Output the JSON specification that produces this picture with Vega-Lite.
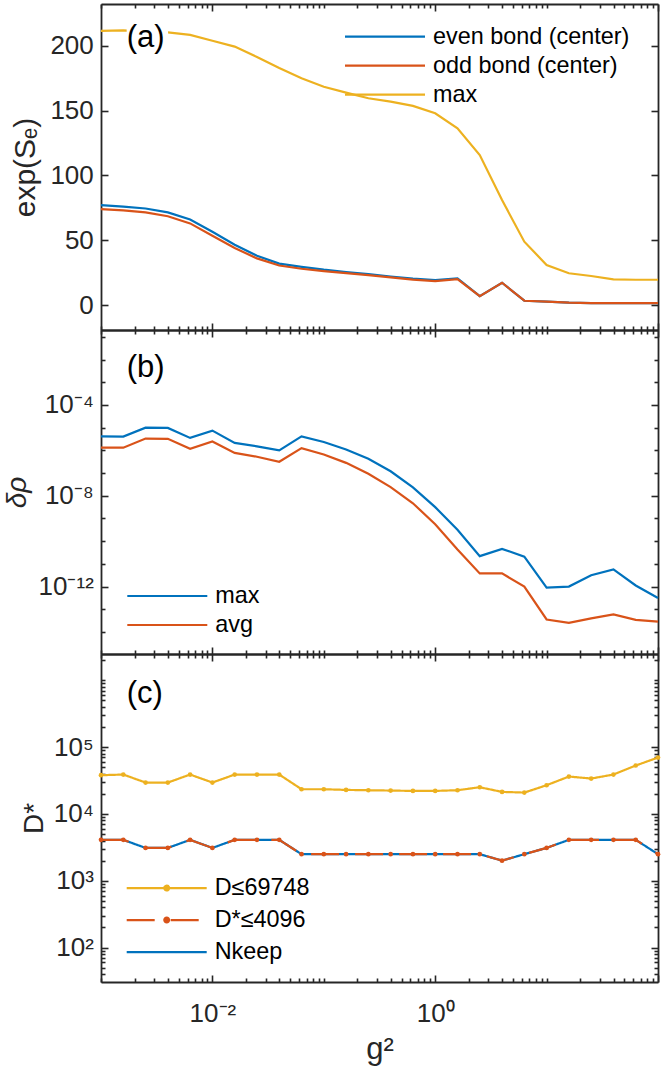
{
  "$schema": "https://vega.github.io/schema/vega-lite/v6.json",
  "autosize": {"type": "pad"},
  "padding": {"left": 3, "top": 3, "right": 4, "bottom": 5},
  "spacing": 0,
  "bounds": "flush",
  "datasets": {
    "a": [
      {"g": 0.001, "s": "even bond (center)", "v": 77.1},
      {"g": 0.001585, "s": "even bond (center)", "v": 76},
      {"g": 0.002512, "s": "even bond (center)", "v": 74.5},
      {"g": 0.003981, "s": "even bond (center)", "v": 71.5},
      {"g": 0.00631, "s": "even bond (center)", "v": 66},
      {"g": 0.01, "s": "even bond (center)", "v": 56.5},
      {"g": 0.01585, "s": "even bond (center)", "v": 46.5},
      {"g": 0.02512, "s": "even bond (center)", "v": 38},
      {"g": 0.03981, "s": "even bond (center)", "v": 32},
      {"g": 0.0631, "s": "even bond (center)", "v": 29.5},
      {"g": 0.1, "s": "even bond (center)", "v": 27.3},
      {"g": 0.1585, "s": "even bond (center)", "v": 25.5},
      {"g": 0.2512, "s": "even bond (center)", "v": 23.8},
      {"g": 0.3981, "s": "even bond (center)", "v": 22},
      {"g": 0.631, "s": "even bond (center)", "v": 20.3},
      {"g": 1, "s": "even bond (center)", "v": 19.2},
      {"g": 1.585, "s": "even bond (center)", "v": 20.5},
      {"g": 2.512, "s": "even bond (center)", "v": 6.8},
      {"g": 3.981, "s": "even bond (center)", "v": 17.2},
      {"g": 6.31, "s": "even bond (center)", "v": 3.3},
      {"g": 10, "s": "even bond (center)", "v": 2.6},
      {"g": 15.85, "s": "even bond (center)", "v": 1.8},
      {"g": 25.12, "s": "even bond (center)", "v": 1.4},
      {"g": 39.81, "s": "even bond (center)", "v": 1.4},
      {"g": 63.1, "s": "even bond (center)", "v": 1.4},
      {"g": 100, "s": "even bond (center)", "v": 1.4},
      {"g": 0.001, "s": "odd bond (center)", "v": 74},
      {"g": 0.001585, "s": "odd bond (center)", "v": 73},
      {"g": 0.002512, "s": "odd bond (center)", "v": 71.5},
      {"g": 0.003981, "s": "odd bond (center)", "v": 68.5},
      {"g": 0.00631, "s": "odd bond (center)", "v": 63},
      {"g": 0.01, "s": "odd bond (center)", "v": 53.5},
      {"g": 0.01585, "s": "odd bond (center)", "v": 44},
      {"g": 0.02512, "s": "odd bond (center)", "v": 36},
      {"g": 0.03981, "s": "odd bond (center)", "v": 30.5},
      {"g": 0.0631, "s": "odd bond (center)", "v": 28},
      {"g": 0.1, "s": "odd bond (center)", "v": 26.2},
      {"g": 0.1585, "s": "odd bond (center)", "v": 24.6},
      {"g": 0.2512, "s": "odd bond (center)", "v": 23},
      {"g": 0.3981, "s": "odd bond (center)", "v": 21.3},
      {"g": 0.631, "s": "odd bond (center)", "v": 19.6},
      {"g": 1, "s": "odd bond (center)", "v": 18.5},
      {"g": 1.585, "s": "odd bond (center)", "v": 20},
      {"g": 2.512, "s": "odd bond (center)", "v": 6.8},
      {"g": 3.981, "s": "odd bond (center)", "v": 17.2},
      {"g": 6.31, "s": "odd bond (center)", "v": 3.3},
      {"g": 10, "s": "odd bond (center)", "v": 2.6},
      {"g": 15.85, "s": "odd bond (center)", "v": 1.8},
      {"g": 25.12, "s": "odd bond (center)", "v": 1.4},
      {"g": 39.81, "s": "odd bond (center)", "v": 1.4},
      {"g": 63.1, "s": "odd bond (center)", "v": 1.4},
      {"g": 100, "s": "odd bond (center)", "v": 1.4},
      {"g": 0.001, "s": "max", "v": 211.6},
      {"g": 0.001585, "s": "max", "v": 212},
      {"g": 0.002512, "s": "max", "v": 211},
      {"g": 0.003981, "s": "max", "v": 210.5},
      {"g": 0.00631, "s": "max", "v": 208.5},
      {"g": 0.01, "s": "max", "v": 204},
      {"g": 0.01585, "s": "max", "v": 199.5},
      {"g": 0.02512, "s": "max", "v": 191.5},
      {"g": 0.03981, "s": "max", "v": 183},
      {"g": 0.0631, "s": "max", "v": 175},
      {"g": 0.1, "s": "max", "v": 168.5},
      {"g": 0.1585, "s": "max", "v": 164},
      {"g": 0.2512, "s": "max", "v": 159.6},
      {"g": 0.3981, "s": "max", "v": 157},
      {"g": 0.631, "s": "max", "v": 153.7},
      {"g": 1, "s": "max", "v": 148},
      {"g": 1.585, "s": "max", "v": 136.4},
      {"g": 2.512, "s": "max", "v": 115.8},
      {"g": 3.981, "s": "max", "v": 81},
      {"g": 6.31, "s": "max", "v": 48.9},
      {"g": 10, "s": "max", "v": 30.9},
      {"g": 15.85, "s": "max", "v": 24.5},
      {"g": 25.12, "s": "max", "v": 22.4},
      {"g": 39.81, "s": "max", "v": 19.8},
      {"g": 63.1, "s": "max", "v": 19.5},
      {"g": 100, "s": "max", "v": 19.5}
    ],
    "b": [
      {"g": 0.001, "s": "max", "v": 4.17e-6},
      {"g": 0.001585, "s": "max", "v": 4.07e-6},
      {"g": 0.002512, "s": "max", "v": 1.0e-5},
      {"g": 0.003981, "s": "max", "v": 9.8e-6},
      {"g": 0.00631, "s": "max", "v": 3.55e-6},
      {"g": 0.01, "s": "max", "v": 7.41e-6},
      {"g": 0.01585, "s": "max", "v": 2.14e-6},
      {"g": 0.02512, "s": "max", "v": 1.51e-6},
      {"g": 0.03981, "s": "max", "v": 1.0e-6},
      {"g": 0.0631, "s": "max", "v": 4.17e-6},
      {"g": 0.1, "s": "max", "v": 2.34e-6},
      {"g": 0.1585, "s": "max", "v": 1.1e-6},
      {"g": 0.2512, "s": "max", "v": 4.27e-7},
      {"g": 0.3981, "s": "max", "v": 1.2e-7},
      {"g": 0.631, "s": "max", "v": 2.34e-8},
      {"g": 1, "s": "max", "v": 3.16e-9},
      {"g": 1.585, "s": "max", "v": 3.16e-10},
      {"g": 2.512, "s": "max", "v": 2.19e-11},
      {"g": 3.981, "s": "max", "v": 4.57e-11},
      {"g": 6.31, "s": "max", "v": 2.09e-11},
      {"g": 10, "s": "max", "v": 8.9e-13},
      {"g": 15.85, "s": "max", "v": 1.0e-12},
      {"g": 25.12, "s": "max", "v": 3.16e-12},
      {"g": 39.81, "s": "max", "v": 5.75e-12},
      {"g": 63.1, "s": "max", "v": 1.12e-12},
      {"g": 100, "s": "max", "v": 3.16e-13},
      {"g": 0.001, "s": "avg", "v": 1.32e-6},
      {"g": 0.001585, "s": "avg", "v": 1.32e-6},
      {"g": 0.002512, "s": "avg", "v": 3.31e-6},
      {"g": 0.003981, "s": "avg", "v": 3.24e-6},
      {"g": 0.00631, "s": "avg", "v": 1.17e-6},
      {"g": 0.01, "s": "avg", "v": 2.45e-6},
      {"g": 0.01585, "s": "avg", "v": 7.76e-7},
      {"g": 0.02512, "s": "avg", "v": 5.25e-7},
      {"g": 0.03981, "s": "avg", "v": 3.16e-7},
      {"g": 0.0631, "s": "avg", "v": 1.26e-6},
      {"g": 0.1, "s": "avg", "v": 6.61e-7},
      {"g": 0.1585, "s": "avg", "v": 2.82e-7},
      {"g": 0.2512, "s": "avg", "v": 9.33e-8},
      {"g": 0.3981, "s": "avg", "v": 2.4e-8},
      {"g": 0.631, "s": "avg", "v": 4.68e-9},
      {"g": 1, "s": "avg", "v": 5.62e-10},
      {"g": 1.585, "s": "avg", "v": 4.27e-11},
      {"g": 2.512, "s": "avg", "v": 3.8e-12},
      {"g": 3.981, "s": "avg", "v": 3.8e-12},
      {"g": 6.31, "s": "avg", "v": 1.0e-12},
      {"g": 10, "s": "avg", "v": 3.55e-14},
      {"g": 15.85, "s": "avg", "v": 2.51e-14},
      {"g": 25.12, "s": "avg", "v": 3.98e-14},
      {"g": 39.81, "s": "avg", "v": 5.89e-14},
      {"g": 63.1, "s": "avg", "v": 3.39e-14},
      {"g": 100, "s": "avg", "v": 2.88e-14}
    ],
    "c": [
      {"g": 0.001, "s": "Nkeep", "v": 4096},
      {"g": 0.001585, "s": "Nkeep", "v": 4096},
      {"g": 0.002512, "s": "Nkeep", "v": 3100},
      {"g": 0.003981, "s": "Nkeep", "v": 3100},
      {"g": 0.00631, "s": "Nkeep", "v": 4096},
      {"g": 0.01, "s": "Nkeep", "v": 3100},
      {"g": 0.01585, "s": "Nkeep", "v": 4096},
      {"g": 0.02512, "s": "Nkeep", "v": 4096},
      {"g": 0.03981, "s": "Nkeep", "v": 4096},
      {"g": 0.0631, "s": "Nkeep", "v": 2500},
      {"g": 0.1, "s": "Nkeep", "v": 2500},
      {"g": 0.1585, "s": "Nkeep", "v": 2500},
      {"g": 0.2512, "s": "Nkeep", "v": 2500},
      {"g": 0.3981, "s": "Nkeep", "v": 2500},
      {"g": 0.631, "s": "Nkeep", "v": 2500},
      {"g": 1, "s": "Nkeep", "v": 2500},
      {"g": 1.585, "s": "Nkeep", "v": 2500},
      {"g": 2.512, "s": "Nkeep", "v": 2500},
      {"g": 3.981, "s": "Nkeep", "v": 2000},
      {"g": 6.31, "s": "Nkeep", "v": 2500},
      {"g": 10, "s": "Nkeep", "v": 3100},
      {"g": 15.85, "s": "Nkeep", "v": 4096},
      {"g": 25.12, "s": "Nkeep", "v": 4096},
      {"g": 39.81, "s": "Nkeep", "v": 4096},
      {"g": 63.1, "s": "Nkeep", "v": 4096},
      {"g": 100, "s": "Nkeep", "v": 2500},
      {"g": 0.001, "s": "D≤69748", "v": 38019},
      {"g": 0.001585, "s": "D≤69748", "v": 38905},
      {"g": 0.002512, "s": "D≤69748", "v": 29512},
      {"g": 0.003981, "s": "D≤69748", "v": 29512},
      {"g": 0.00631, "s": "D≤69748", "v": 38905},
      {"g": 0.01, "s": "D≤69748", "v": 29512},
      {"g": 0.01585, "s": "D≤69748", "v": 38905},
      {"g": 0.02512, "s": "D≤69748", "v": 38905},
      {"g": 0.03981, "s": "D≤69748", "v": 38905},
      {"g": 0.0631, "s": "D≤69748", "v": 23442},
      {"g": 0.1, "s": "D≤69748", "v": 23442},
      {"g": 0.1585, "s": "D≤69748", "v": 22909},
      {"g": 0.2512, "s": "D≤69748", "v": 22646},
      {"g": 0.3981, "s": "D≤69748", "v": 22387},
      {"g": 0.631, "s": "D≤69748", "v": 22131},
      {"g": 1, "s": "D≤69748", "v": 22131},
      {"g": 1.585, "s": "D≤69748", "v": 22646},
      {"g": 2.512, "s": "D≤69748", "v": 25119},
      {"g": 3.981, "s": "D≤69748", "v": 21380},
      {"g": 6.31, "s": "D≤69748", "v": 20893},
      {"g": 10, "s": "D≤69748", "v": 26915},
      {"g": 15.85, "s": "D≤69748", "v": 36308},
      {"g": 25.12, "s": "D≤69748", "v": 33884},
      {"g": 39.81, "s": "D≤69748", "v": 38905},
      {"g": 63.1, "s": "D≤69748", "v": 53088},
      {"g": 100, "s": "D≤69748", "v": 69748},
      {"g": 0.001, "s": "D*≤4096", "v": 4096},
      {"g": 0.001585, "s": "D*≤4096", "v": 4096},
      {"g": 0.002512, "s": "D*≤4096", "v": 3100},
      {"g": 0.003981, "s": "D*≤4096", "v": 3100},
      {"g": 0.00631, "s": "D*≤4096", "v": 4096},
      {"g": 0.01, "s": "D*≤4096", "v": 3100},
      {"g": 0.01585, "s": "D*≤4096", "v": 4096},
      {"g": 0.02512, "s": "D*≤4096", "v": 4096},
      {"g": 0.03981, "s": "D*≤4096", "v": 4096},
      {"g": 0.0631, "s": "D*≤4096", "v": 2500},
      {"g": 0.1, "s": "D*≤4096", "v": 2500},
      {"g": 0.1585, "s": "D*≤4096", "v": 2500},
      {"g": 0.2512, "s": "D*≤4096", "v": 2500},
      {"g": 0.3981, "s": "D*≤4096", "v": 2500},
      {"g": 0.631, "s": "D*≤4096", "v": 2500},
      {"g": 1, "s": "D*≤4096", "v": 2500},
      {"g": 1.585, "s": "D*≤4096", "v": 2500},
      {"g": 2.512, "s": "D*≤4096", "v": 2500},
      {"g": 3.981, "s": "D*≤4096", "v": 2000},
      {"g": 6.31, "s": "D*≤4096", "v": 2500},
      {"g": 10, "s": "D*≤4096", "v": 3100},
      {"g": 15.85, "s": "D*≤4096", "v": 4096},
      {"g": 25.12, "s": "D*≤4096", "v": 4096},
      {"g": 39.81, "s": "D*≤4096", "v": 4096},
      {"g": 63.1, "s": "D*≤4096", "v": 4096},
      {"g": 100, "s": "D*≤4096", "v": 2500}
    ]
  },
  "vconcat": [
    {
      "width": 557,
      "height": 326,
      "data": {"name": "a"},
      "resolve": {"axis": {"x": "independent", "y": "independent"}},
      "layer": [
        {
          "mark": {"type": "line", "strokeWidth": 2.2},
          "encoding": {
            "x": {
              "field": "g", "type": "quantitative",
              "scale": {"type": "log", "domain": [0.001, 100], "nice": false},
              "axis": {
                "orient": "bottom", "labels": false, "title": null,
                "values": [0.001,0.002,0.003,0.004,0.005,0.006,0.007,0.008,0.009,0.01,0.02,0.03,0.04,0.05,0.06,0.07,0.08,0.09,0.1,0.2,0.3,0.4,0.5,0.6,0.7,0.8,0.9,1,2,3,4,5,6,7,8,9,10,20,30,40,50,60,70,80,90,100],
                "tickSize": {"condition": {"test": "datum.value === 0.01 || datum.value === 1 || datum.value === 100", "value": -7}, "value": -4}
              }
            },
            "y": {
              "field": "v", "type": "quantitative",
              "scale": {"domain": [-19.3, 232.4], "nice": false, "zero": false},
              "axis": {
                "orient": "left", "values": [0, 50, 100, 150, 200],
                "tickSize": -7, "labelPadding": 14.7,
                "title": "exp(Sₑ)", "titleFontSize": 30, "titleX": -67, "titleBaseline": "alphabetic"
              }
            },
            "color": {
              "field": "s", "type": "nominal",
              "scale": {"domain": ["even bond (center)", "odd bond (center)", "max"], "range": ["#0072BD", "#D95319", "#EDB120"]},
              "legend": {"title": null, "orient": "none", "legendX": 242.5, "legendY": 18.3, "clipHeight": 28.7}
            }
          }
        },
        {
          "data": {"values": [{"g": 0.0017, "g2": 0.004, "v": 196, "v2": 222}]},
          "mark": {"type": "rect", "color": "white", "opacity": 1},
          "encoding": {
            "x": {"field": "g", "type": "quantitative", "axis": null},
            "x2": {"field": "g2"},
            "y": {"field": "v", "type": "quantitative", "axis": null},
            "y2": {"field": "v2"}
          }
        },
        {
          "data": {"values": [{"g": 0.0017, "v": 206, "t": "(a)"}]},
          "mark": {"type": "text", "align": "left", "baseline": "middle", "fontSize": 31, "color": "#000000"},
          "encoding": {
            "x": {
              "field": "g", "type": "quantitative",
              "axis": {
                "orient": "top", "labels": false, "title": null,
                "values": [0.001,0.002,0.003,0.004,0.005,0.006,0.007,0.008,0.009,0.01,0.02,0.03,0.04,0.05,0.06,0.07,0.08,0.09,0.1,0.2,0.3,0.4,0.5,0.6,0.7,0.8,0.9,1,2,3,4,5,6,7,8,9,10,20,30,40,50,60,70,80,90,100],
                "tickSize": {"condition": {"test": "datum.value === 0.01 || datum.value === 1 || datum.value === 100", "value": -7}, "value": -4}
              }
            },
            "y": {
              "field": "v", "type": "quantitative",
              "axis": {"orient": "right", "labels": false, "title": null, "values": [0, 50, 100, 150, 200], "tickSize": -7}
            },
            "text": {"field": "t"}
          }
        }
      ]
    },
    {
      "width": 557,
      "height": 324,
      "data": {"name": "b"},
      "resolve": {"axis": {"x": "independent", "y": "independent"}},
      "layer": [
        {
          "mark": {"type": "line", "strokeWidth": 2.2},
          "encoding": {
            "x": {
              "field": "g", "type": "quantitative",
              "scale": {"type": "log", "domain": [0.001, 100], "nice": false},
              "axis": {
                "orient": "bottom", "labels": false, "title": null,
                "values": [0.001,0.002,0.003,0.004,0.005,0.006,0.007,0.008,0.009,0.01,0.02,0.03,0.04,0.05,0.06,0.07,0.08,0.09,0.1,0.2,0.3,0.4,0.5,0.6,0.7,0.8,0.9,1,2,3,4,5,6,7,8,9,10,20,30,40,50,60,70,80,90,100],
                "tickSize": {"condition": {"test": "datum.value === 0.01 || datum.value === 1 || datum.value === 100", "value": -7}, "value": -4}
              }
            },
            "y": {
              "field": "v", "type": "quantitative",
              "scale": {"type": "log", "domain": [1.07e-15, 0.2014], "nice": false},
              "axis": {
                "orient": "left",
                "values": [1e-15,1e-14,1e-13,1e-12,1e-11,1e-10,1e-9,1e-8,1e-7,1e-6,1e-5,1e-4,1e-3,1e-2,1e-1],
                "tickSize": {"condition": {"test": "datum.value === 1e-4 || datum.value === 1e-8 || datum.value === 1e-12", "value": -7}, "value": -4},
                "labelPadding": 14.7,
                "labelExpr": "datum.value === 1e-4 ? '10⁻⁴' : datum.value === 1e-8 ? '10⁻⁸' : datum.value === 1e-12 ? '10⁻¹²' : ''",
                "title": "δρ", "titleFontStyle": "italic", "titleX": -76, "titleBaseline": "alphabetic"
              }
            },
            "color": {
              "field": "s", "type": "nominal",
              "scale": {"domain": ["max", "avg"], "range": ["#0072BD", "#D95319"]},
              "legend": {"title": null, "orient": "none", "legendX": 24.8, "legendY": 251.5, "clipHeight": 29}
            }
          }
        },
        {
          "data": {"values": [{"g": 0.0017, "v": 0.0042, "t": "(b)"}]},
          "mark": {"type": "text", "align": "left", "baseline": "middle", "fontSize": 31, "color": "#000000"},
          "encoding": {
            "x": {
              "field": "g", "type": "quantitative",
              "axis": {
                "orient": "top", "labels": false, "title": null,
                "values": [0.001,0.002,0.003,0.004,0.005,0.006,0.007,0.008,0.009,0.01,0.02,0.03,0.04,0.05,0.06,0.07,0.08,0.09,0.1,0.2,0.3,0.4,0.5,0.6,0.7,0.8,0.9,1,2,3,4,5,6,7,8,9,10,20,30,40,50,60,70,80,90,100],
                "tickSize": {"condition": {"test": "datum.value === 0.01 || datum.value === 1 || datum.value === 100", "value": -7}, "value": -4}
              }
            },
            "y": {
              "field": "v", "type": "quantitative",
              "axis": {
                "orient": "right", "labels": false, "title": null,
                "values": [1e-15,1e-14,1e-13,1e-12,1e-11,1e-10,1e-9,1e-8,1e-7,1e-6,1e-5,1e-4,1e-3,1e-2,1e-1],
                "tickSize": {"condition": {"test": "datum.value === 1e-4 || datum.value === 1e-8 || datum.value === 1e-12", "value": -7}, "value": -4}
              }
            },
            "text": {"field": "t"}
          }
        }
      ]
    },
    {
      "width": 557,
      "height": 328,
      "data": {"name": "c"},
      "resolve": {"axis": {"x": "independent", "y": "independent"}},
      "layer": [
        {
          "mark": {"type": "line", "strokeWidth": 2.2},
          "encoding": {
            "x": {
              "field": "g", "type": "quantitative",
              "scale": {"type": "log", "domain": [0.001, 100], "nice": false},
              "axis": {
                "orient": "bottom",
                "values": [0.001,0.002,0.003,0.004,0.005,0.006,0.007,0.008,0.009,0.01,0.02,0.03,0.04,0.05,0.06,0.07,0.08,0.09,0.1,0.2,0.3,0.4,0.5,0.6,0.7,0.8,0.9,1,2,3,4,5,6,7,8,9,10,20,30,40,50,60,70,80,90,100],
                "tickSize": {"condition": {"test": "datum.value === 0.01 || datum.value === 1 || datum.value === 100", "value": -7}, "value": -4},
                "labelPadding": 25,
                "labelExpr": "datum.value === 0.01 ? '10⁻²' : datum.value === 1 ? '10⁰' : ''",
                "title": "g²", "titleFontSize": 31, "titleY": 76, "titleBaseline": "alphabetic"
              }
            },
            "y": {
              "field": "v", "type": "quantitative",
              "scale": {"type": "log", "domain": [30.5, 2480000], "nice": false},
              "axis": {
                "orient": "left",
                "values": [40,50,60,70,80,90,100,200,300,400,500,600,700,800,900,1000,2000,3000,4000,5000,6000,7000,8000,9000,10000,20000,30000,40000,50000,60000,70000,80000,90000,100000,200000,300000,400000,500000,600000,700000,800000,900000,1000000,2000000],
                "tickSize": {"condition": {"test": "datum.value === 100 || datum.value === 1000 || datum.value === 10000 || datum.value === 100000", "value": -7}, "value": -4},
                "labelPadding": 14.7,
                "labelExpr": "datum.value === 100 ? '10²' : datum.value === 1000 ? '10³' : datum.value === 10000 ? '10⁴' : datum.value === 100000 ? '10⁵' : ''",
                "title": "D*", "titleX": -58.5, "titleBaseline": "alphabetic"
              }
            },
            "color": {
              "field": "s", "type": "nominal",
              "scale": {"domain": ["D≤69748", "D*≤4096", "Nkeep"], "range": ["#EDB120", "#D95319", "#0072BD"]},
              "legend": {
                "title": null, "orient": "none", "legendX": 24.2, "legendY": 218.2, "clipHeight": 31.7,
                "encode": {
                  "symbols": {
                    "update": {
                      "shape": {"signal": "datum.value === 'Nkeep' ? 'stroke' : 'M-1,0H1M0.06,0A0.06,0.06,0,1,1,-0.06,0A0.06,0.06,0,1,1,0.06,0'"},
                      "fill": {"signal": "datum.value === 'Nkeep' ? 'transparent' : datum.value === 'D*≤4096' ? '#D95319' : '#EDB120'"},
                      "strokeDash": {"signal": "datum.value === 'D*≤4096' ? [28, 12] : [1, 0]"}
                    }
                  }
                }
              }
            },
            "strokeDash": {
              "field": "s", "type": "nominal",
              "scale": {"domain": ["D≤69748", "D*≤4096", "Nkeep"], "range": [[1, 0], [28, 16], [1, 0]]},
              "legend": null
            }
          }
        },
        {
          "transform": [{"filter": "datum.s === 'D≤69748'"}],
          "mark": {"type": "point", "filled": true, "size": 22, "opacity": 1, "color": "#EDB120"},
          "encoding": {
            "x": {"field": "g", "type": "quantitative", "axis": null},
            "y": {"field": "v", "type": "quantitative", "axis": null}
          }
        },
        {
          "transform": [{"filter": "datum.s === 'D*≤4096'"}],
          "mark": {"type": "point", "filled": true, "size": 22, "opacity": 1, "color": "#D95319"},
          "encoding": {
            "x": {"field": "g", "type": "quantitative", "axis": null},
            "y": {"field": "v", "type": "quantitative", "axis": null}
          }
        },
        {
          "data": {"values": [{"g": 0.0017, "v": 630000, "t": "(c)"}]},
          "mark": {"type": "text", "align": "left", "baseline": "middle", "fontSize": 31, "color": "#000000"},
          "encoding": {
            "x": {
              "field": "g", "type": "quantitative",
              "axis": {
                "orient": "top", "labels": false, "title": null,
                "values": [0.001,0.002,0.003,0.004,0.005,0.006,0.007,0.008,0.009,0.01,0.02,0.03,0.04,0.05,0.06,0.07,0.08,0.09,0.1,0.2,0.3,0.4,0.5,0.6,0.7,0.8,0.9,1,2,3,4,5,6,7,8,9,10,20,30,40,50,60,70,80,90,100],
                "tickSize": {"condition": {"test": "datum.value === 0.01 || datum.value === 1 || datum.value === 100", "value": -7}, "value": -4}
              }
            },
            "y": {
              "field": "v", "type": "quantitative",
              "axis": {
                "orient": "right", "labels": false, "title": null,
                "values": [40,50,60,70,80,90,100,200,300,400,500,600,700,800,900,1000,2000,3000,4000,5000,6000,7000,8000,9000,10000,20000,30000,40000,50000,60000,70000,80000,90000,100000,200000,300000,400000,500000,600000,700000,800000,900000,1000000,2000000],
                "tickSize": {"condition": {"test": "datum.value === 100 || datum.value === 1000 || datum.value === 10000 || datum.value === 100000", "value": -7}, "value": -4}
              }
            },
            "text": {"field": "t"}
          }
        }
      ]
    }
  ],
  "resolve": {"scale": {"color": "independent", "strokeDash": "independent"}, "legend": {"color": "independent"}},
  "config": {
    "font": "Liberation Sans",
    "view": {"stroke": null},
    "axis": {
      "grid": false,
      "domainColor": "#262626", "domainWidth": 1.8,
      "tickColor": "#262626", "tickWidth": 1.6,
      "labelColor": "#262626", "labelFont": "Liberation Sans", "labelFontSize": 26,
      "titleColor": "#262626", "titleFont": "Liberation Sans", "titleFontSize": 28, "titleFontWeight": "normal",
      "labelOverlap": false, "labelFlush": false, "labelBound": false
    },
    "legend": {
      "labelFont": "Liberation Sans", "labelFontSize": 23.4, "labelColor": "#000000", "labelLimit": 400,
      "symbolType": "stroke", "symbolSize": 6400, "symbolStrokeWidth": 2.2,
      "rowPadding": 0, "padding": 0, "labelOffset": 6.5
    }
  }
}
